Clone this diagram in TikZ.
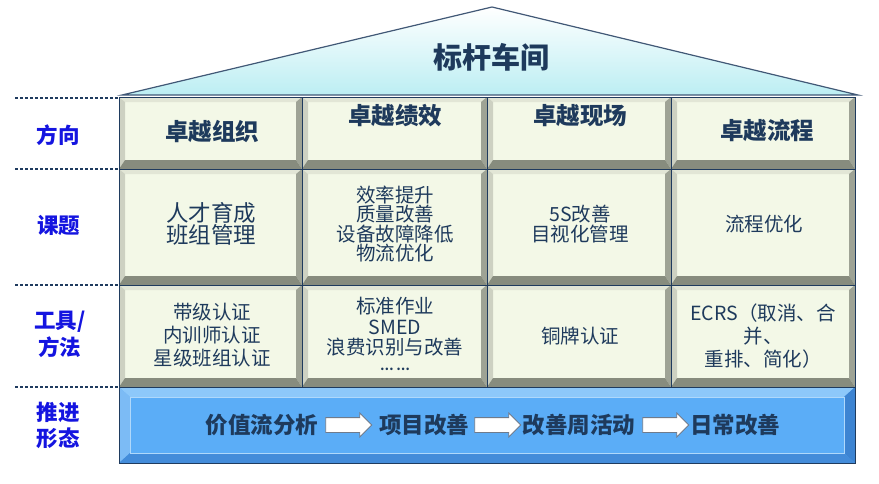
\documentclass[tikz,border=0pt]{standalone}
\usepackage{fontspec}
\setmainfont{Noto Sans CJK SC}
\usetikzlibrary{shapes.arrows}
\definecolor{navy}{HTML}{1F3B5E}
\definecolor{txt}{HTML}{1E3A5C}
\definecolor{lab}{HTML}{1414E0}
\definecolor{face}{HTML}{F3F8E7}
\definecolor{bevdark}{HTML}{878C7E}
\definecolor{bevmid}{HTML}{9EA395}
\definecolor{bevlight}{HTML}{CDD1C2}
\definecolor{bevtop}{HTML}{E2E6D6}
\definecolor{bandface}{HTML}{5BADF7}
\definecolor{bandtop}{HTML}{8DC8FA}
\definecolor{bandleft}{HTML}{7CBBF5}
\definecolor{banddark}{HTML}{3D84D2}
\definecolor{roofbot}{HTML}{BCEEF3}
\definecolor{arrowline}{HTML}{6F7B8C}
\tikzset{
  cell/.style={draw=navy, line width=1pt, fill=face, inner sep=0pt, outer sep=0pt,
    path picture={
      \fill[bevtop] (path picture bounding box.north west) -- (path picture bounding box.north east)
        -- ([xshift=-6pt,yshift=-5pt]path picture bounding box.north east)
        -- ([xshift=6pt,yshift=-5pt]path picture bounding box.north west) -- cycle;
      \fill[bevlight] (path picture bounding box.south west) -- (path picture bounding box.north west)
        -- ([xshift=6pt,yshift=-5pt]path picture bounding box.north west)
        -- ([xshift=6pt,yshift=9pt]path picture bounding box.south west) -- cycle;
      \fill[bevmid] (path picture bounding box.south east) -- (path picture bounding box.north east)
        -- ([xshift=-6pt,yshift=-5pt]path picture bounding box.north east)
        -- ([xshift=-6pt,yshift=9pt]path picture bounding box.south east) -- cycle;
      \fill[bevdark] (path picture bounding box.south west) -- (path picture bounding box.south east)
        -- ([xshift=-6pt,yshift=9pt]path picture bounding box.south east)
        -- ([xshift=6pt,yshift=9pt]path picture bounding box.south west) -- cycle;
    }},
  band/.style={draw=navy, line width=1pt, fill=bandface, inner sep=0pt, outer sep=0pt,
    path picture={
      \fill[bandtop] (path picture bounding box.north west) -- (path picture bounding box.north east)
        -- ([xshift=-11pt,yshift=-10pt]path picture bounding box.north east)
        -- ([xshift=11pt,yshift=-10pt]path picture bounding box.north west) -- cycle;
      \fill[bandleft] (path picture bounding box.south west) -- (path picture bounding box.north west)
        -- ([xshift=11pt,yshift=-10pt]path picture bounding box.north west)
        -- ([xshift=11pt,yshift=10pt]path picture bounding box.south west) -- cycle;
      \fill[banddark] (path picture bounding box.south east) -- (path picture bounding box.north east)
        -- ([xshift=-11pt,yshift=-10pt]path picture bounding box.north east)
        -- ([xshift=-11pt,yshift=10pt]path picture bounding box.south east) -- cycle;
      \fill[banddark!80!bandface] (path picture bounding box.south west) -- (path picture bounding box.south east)
        -- ([xshift=-11pt,yshift=10pt]path picture bounding box.south east)
        -- ([xshift=11pt,yshift=10pt]path picture bounding box.south west) -- cycle;
      \draw[bandtop!70!white, line width=0.8pt]
        ([xshift=11pt,yshift=10pt]path picture bounding box.south west) rectangle
        ([xshift=-11pt,yshift=-10pt]path picture bounding box.north east);
    }},
  dashline/.style={draw=navy, line width=1.3pt, dash pattern=on 3.2pt off 1.8pt},
  side/.style={text=lab, font=\bfseries\fontsize{21.5}{24}\selectfont, align=center, inner sep=0pt},
  head/.style={text=txt, font=\bfseries\fontsize{23.5}{25}\selectfont, inner sep=0pt},
  body/.style={text=txt, font=\fontsize{19.5}{21}\selectfont, align=center, inner sep=0pt},
  flow/.style={text=txt, font=\bfseries\fontsize{22.5}{24}\selectfont, inner sep=0pt},
  blockarrow/.style={single arrow, draw=arrowline, fill=white, line width=0.8pt,
    minimum height=46pt, minimum width=23pt, single arrow head extend=4.5pt,
    inner xsep=0pt, inner ysep=7pt, outer sep=0pt}
}
\begin{document}
\begin{tikzpicture}[x=1pt,y=-1pt]
\useasboundingbox (0,0) rectangle (879,483);
% roof
\path[top color=white, bottom color=roofbot, draw=navy!85, line width=1.2pt]
  (122,95) -- (492,7) -- (858,95) -- cycle;
\node[text=txt, font=\bfseries\fontsize{29}{31}\selectfont, inner sep=0pt] (title) at (491,57) {标杆车间};
% dashed lines
\coordinate (d1a) at (15,98);  \coordinate (d1b) at (119,98);
\coordinate (d2a) at (15,169); \coordinate (d2b) at (119,169);
\coordinate (d3a) at (15,285); \coordinate (d3b) at (119,285);
\coordinate (d4a) at (15,387); \coordinate (d4b) at (119,387);
\foreach \a/\b in {d1a/d1b,d2a/d2b,d3a/d3b,d4a/d4b} \draw[dashline] (\a) -- (\b);
% side labels
\node[side] (s1) at (58,135) {方向};
\node[side] (s2) at (59,225) {课题};
\node[side, font=\bfseries\fontsize{21.5}{27}\selectfont] (s3) at (60,334) {工具/\\方法};
\node[side, font=\bfseries\fontsize{21.5}{26}\selectfont] (s4) at (58,425) {推进\\形态};
% cells: columns 119,302,487,671,855 ; rows 97,169,285,387
\foreach \r/\ya/\yb in {1/97/169, 2/169/285, 3/285/387}{
  \foreach \c/\xa/\xb in {1/119/302, 2/302/487, 3/487/671, 4/671/855}{
    \node[cell, minimum width={\xb-\xa}, minimum height={\yb-\ya}] (c\r\c) at ({(\xa+\xb)/2},{(\ya+\yb)/2}) {};
  }
}
% row 1
\node[head] (h1) at (212,131) {卓越组织};
\node[head] (h2) at (395,116) {卓越绩效};
\node[head] (h3) at (580,116) {卓越现场};
\node[head] (h4) at (767,131) {卓越流程};
% row 2
\node[body, font=\fontsize{22.5}{19}\selectfont] (t1) at (211,224) {人才育成\\班组管理};
\node[body, font=\fontsize{19.5}{19.5}\selectfont] (t2) at (395,224) {效率提升\\质量改善\\设备故障降低\\物流优化};
\node[body, font=\fontsize{19.5}{19.5}\selectfont] (t3) at (580,224) {5S改善\\目视化管理};
\node[body] (t4) at (764,224) {流程优化};
% row 3
\node[body, font=\fontsize{19.5}{23}\selectfont] (m1) at (212,335) {带级认证\\内训师认证\\星级班组认证};
\node[body, font=\fontsize{19.5}{20.5}\selectfont] (m2) at (395,327) {标准作业\\SMED\\浪费识别与改善};
\node[text=txt, font=\bfseries\fontsize{12}{12}\selectfont, inner sep=0pt] (m2b) at (395,369) {… …};
\node[body] (m3) at (580,336) {铜牌认证};
\node[body, font=\fontsize{19.5}{23}\selectfont] (m4) at (763,336) {ECRS（取消、合\\并、\\重排、简化）};
% band
\node[band, minimum width=736pt, minimum height=76pt] (bandbox) at (487,425) {};
\node[flow] (f1) at (262,425) {价值流分析};
\node[flow] (f2) at (424,425) {项目改善};
\node[flow] (f3) at (579,425) {改善周活动};
\node[flow] (f4) at (735,425) {日常改善};
\node[blockarrow] (a1) at (345,425) {};
\node[blockarrow] (a2) at (494,425) {};
\node[blockarrow] (a3) at (662,425) {};
\end{tikzpicture}
\end{document}
